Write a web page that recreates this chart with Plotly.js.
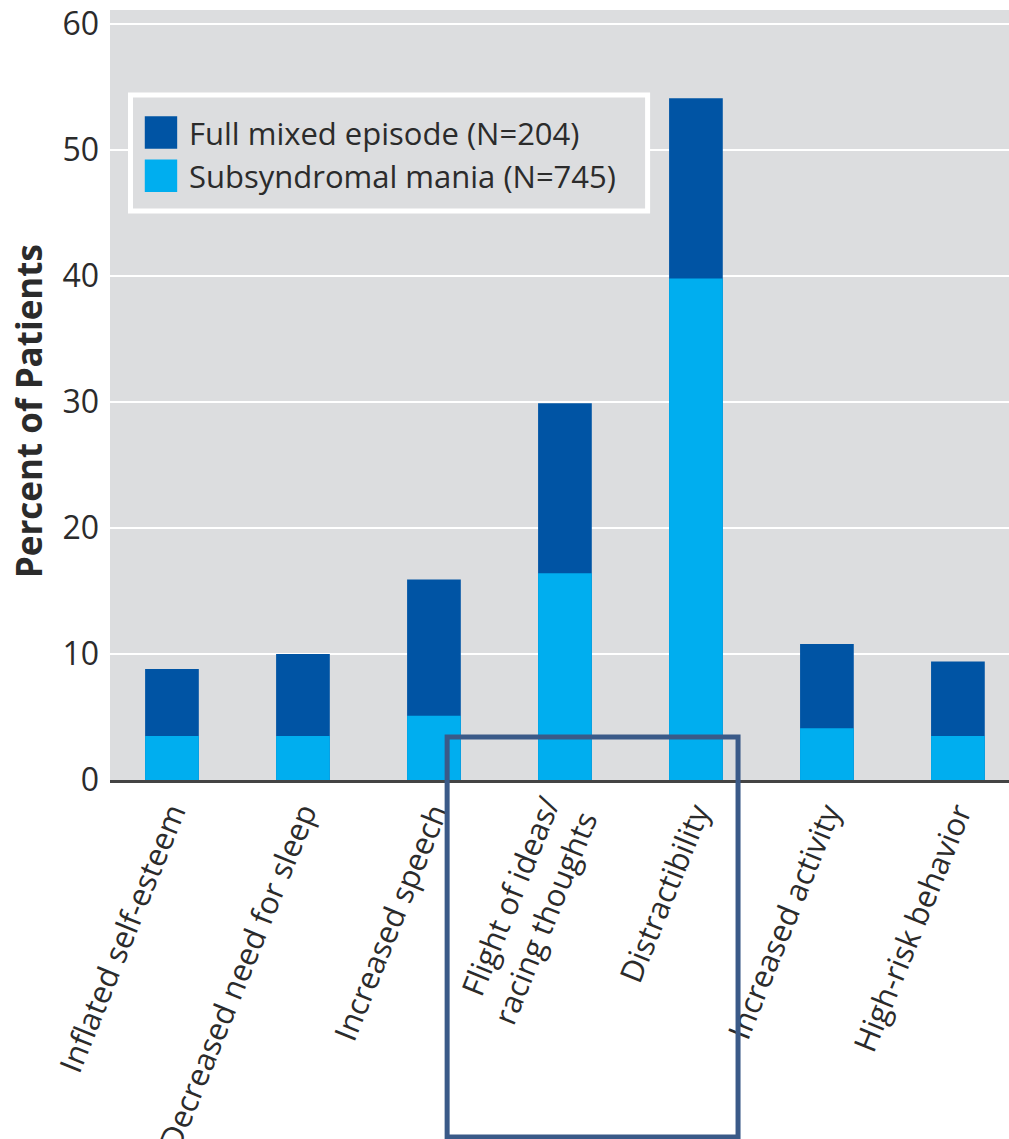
<!DOCTYPE html>
<html>
<head>
<meta charset="utf-8">
<script src="https://cdn.plot.ly/plotly-3.0.1.min.js"></script>
<style>html,body{margin:0;padding:0;background:#fff;}#chart{width:1009px;height:1139px;}</style>
</head>
<body>
<div id="chart"></div>
<script>
var categories = ["Inflated self-esteem", "Decreased need for sleep", "Increased speech", "Flight of ideas/<br>racing thoughts", "Distractibility", "Increased activity", "High-risk behavior"];
var fullMixed = [8.8, 10.0, 15.9, 29.9, 54.1, 10.8, 9.4];
var subsyndromal = [3.5, 3.5, 5.1, 16.4, 39.8, 4.1, 3.5];
var seriesNames = ["Full mixed episode (N=204)", "Subsyndromal mania (N=745)"];
var yTicks = [0, 10, 20, 30, 40, 50, 60];
var yTitle = "Percent of Patients";

var FONT = "Open Sans, Noto Sans, sans-serif";
var TXT = "#2b2b2b";
var BG = "#DCDDDF";

var traces = [
  {type: "bar", x: categories, y: fullMixed, name: seriesNames[0], width: 0.41,
   marker: {color: "#0054A4", line: {width: 0}}, hoverinfo: "y"},
  {type: "bar", x: categories, y: subsyndromal, name: seriesNames[1], width: 0.41,
   marker: {color: "#00AEEF", line: {width: 0}}, hoverinfo: "y"}
];

var layout = {
  width: 1009, height: 1139,
  margin: {l: 110, r: 0, t: 10, b: 359},
  paper_bgcolor: "#ffffff",
  plot_bgcolor: BG,
  barmode: "overlay",
  font: {family: FONT, color: TXT, size: 30},
  showlegend: true,
  legend: {
    x: 0.02, y: 0.882, xanchor: "left", yanchor: "top",
    bgcolor: "rgba(0,0,0,0)", bordercolor: "rgba(0,0,0,0)", borderwidth: 5,
    font: {family: FONT, size: 31, color: TXT},
    itemwidth: 46, traceorder: "normal"
  },
  xaxis: {
    type: "category", range: [-0.473, 6.39],
    tickangle: -68, tickfont: {family: FONT, size: 31, color: TXT},
    showgrid: false, showline: true, linecolor: "#444444", linewidth: 2.5,
    ticks: "", fixedrange: true
  },
  yaxis: {
    range: [0, 61.1], tickvals: yTicks, ticktext: yTicks.map(String),
    tickfont: {family: FONT, size: 32, color: TXT},
    gridcolor: "#ffffff", gridwidth: 2, zeroline: false, showline: false,
    ticks: "", ticklabelstandoff: 10,
    fixedrange: true
  },
  annotations: [{
    text: "<b>" + yTitle + "</b>", xref: "paper", yref: "paper",
    x: -0.0912, y: 0.479, xanchor: "center", yanchor: "middle",
    textangle: -90, showarrow: false,
    font: {family: FONT, size: 35, color: TXT}
  }],
  shapes: [
    {type: "rect", xref: "paper", yref: "paper",
     x0: 0.0228, x1: 0.598, y0: 0.8895, y1: 0.739,
     line: {color: "#ffffff", width: 5}, fillcolor: BG, layer: "above"},
    {type: "rect", xref: "paper", yref: "paper",
     x0: 0.375, x1: 0.6986, y0: 0.0558, y1: -0.4636,
     line: {color: "#3A5A88", width: 5}, fillcolor: "rgba(0,0,0,0)", layer: "above"}
  ]
};

Plotly.newPlot("chart", traces, layout, {staticPlot: true}).then(function (gd) {
  var pts = gd.querySelectorAll(".legend .legendpoints path");
  pts.forEach(function (p) {
    var t = p.getAttribute("transform") || "";
    p.setAttribute("transform", t + " scale(2.7)");
  });
});
</script>
</body>
</html>
